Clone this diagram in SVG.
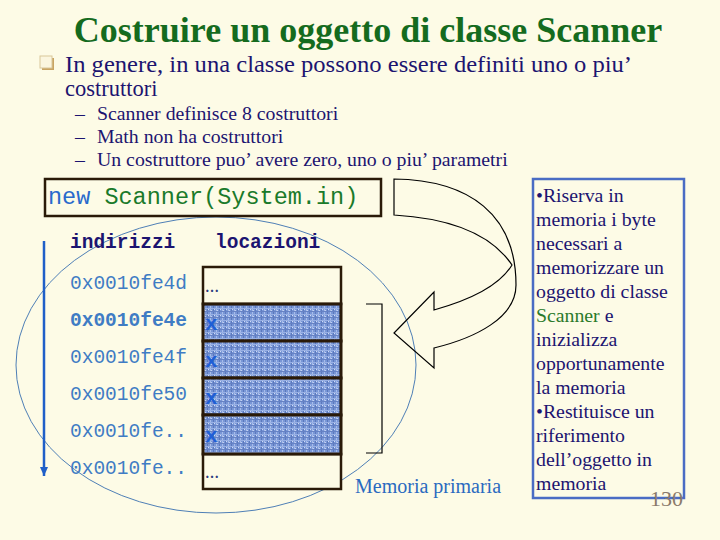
<svg xmlns="http://www.w3.org/2000/svg" width="720" height="540" viewBox="0 0 720 540">
<style>
.title{font-family:"Liberation Serif",serif;font-weight:bold;font-size:36px;fill:#156b1e}
.b1{font-family:"Liberation Serif",serif;font-size:22.5px;fill:#1c1470}
.b2{font-family:"Liberation Serif",serif;font-size:19.8px;fill:#1c1470}
.code{font-family:"Liberation Mono",monospace;font-size:23.5px}
.hdr{font-family:"Liberation Mono",monospace;font-size:19.5px;font-weight:bold;fill:#1c1470}
.addr{font-family:"Liberation Mono",monospace;font-size:19.5px;fill:#3f7cc4}
.cell{stroke:#2a1a08;stroke-width:3}
.x{font-family:"Liberation Mono",monospace;font-size:21px;font-weight:bold;fill:#1f5fd6}
.dots{font-family:"Liberation Serif",serif;font-size:14px;font-weight:bold;fill:#2a3a80}
.side{font-family:"Liberation Serif",serif;font-size:19.8px;fill:#1c1470}
.thin{fill:none;stroke:#000;stroke-width:1.2}
</style>
<defs>
<pattern id="tex" width="6" height="6" patternUnits="userSpaceOnUse">
<rect width="6" height="6" fill="#7896d6"/>
<rect x="0" y="0" width="1" height="6" fill="#a8bdea"/>
<rect x="3" y="0" width="1" height="6" fill="#5b78bc"/>
<rect x="0" y="2" width="6" height="1" fill="#98b0e4"/>
<rect x="0" y="5" width="6" height="1" fill="#6682c4"/>
<rect x="4" y="3" width="1" height="1" fill="#d0dcf4"/>
<rect x="1" y="4" width="1" height="1" fill="#c4d2f0"/>
</pattern>
<marker id="ah" markerWidth="10" markerHeight="10" refX="9" refY="5" orient="auto" markerUnits="userSpaceOnUse">
<path d="M0,1 L9,5 L0,9 Z" fill="#1f5fc8"/>
</marker>
</defs>
<rect width="720" height="540" fill="#fdfbe6"/>

<g id="title"><text class="title" x="368" y="42" text-anchor="middle">Costruire un oggetto di classe Scanner</text></g>

<g id="bullets">
<rect x="42" y="58" width="12" height="12" fill="#c9a462"/>
<rect x="40" y="56" width="12" height="12" fill="#fbf6df" stroke="#d9c79a" stroke-width="1"/>
<text class="b1" x="65" y="72" textLength="567" lengthAdjust="spacingAndGlyphs">In genere, in una classe possono essere definiti uno o piu’</text>
<text class="b1" x="65" y="96">costruttori</text>
<text class="b2" x="75" y="120">–</text><text class="b2" x="97" y="120">Scanner definisce 8 costruttori</text>
<text class="b2" x="75" y="143">–</text><text class="b2" x="97" y="143">Math non ha costruttori</text>
<text class="b2" x="75" y="166">–</text><text class="b2" x="97" y="166">Un costruttore puo’ avere zero, uno o piu’ parametri</text>
</g>

<g id="memory-ellipse"><ellipse cx="216" cy="365" rx="200" ry="148" fill="none" stroke="#3a70b0" stroke-width="0.9"/></g>

<g id="code-box">
<rect x="45" y="179" width="336" height="37" fill="#fdfbe6" stroke="#2a1a08" stroke-width="2.5"/>
<text class="code" x="48" y="204"><tspan fill="#2a6acc">new</tspan><tspan fill="#1a7a2a"> Scanner(System.in)</tspan></text>
</g>

<g id="headers">
<text class="hdr" x="70" y="248">indirizzi</text>
<text class="hdr" x="215" y="248">locazioni</text>
</g>

<g id="addresses">
<text class="addr" x="70" y="289">0x0010fe4d</text>
<text class="addr" x="70" y="326" font-weight="bold" fill="#1f62c8">0x0010fe4e</text>
<text class="addr" x="70" y="363">0x0010fe4f</text>
<text class="addr" x="70" y="400">0x0010fe50</text>
<text class="addr" x="70" y="437">0x0010fe..</text>
<text class="addr" x="70" y="474">0x0010fe..</text>
</g>

<g id="cells">
<rect x="203" y="267" width="138" height="37" fill="#fdfbe6" stroke="#2a1a08" stroke-width="2.5"/>
<text class="dots" x="205" y="292">…</text>
<rect x="203" y="454" width="138" height="35" fill="#fdfbe6" stroke="#2a1a08" stroke-width="2.5"/>
<text class="dots" x="205" y="478">…</text>
<rect class="cell" x="203" y="304" width="138" height="37" fill="url(#tex)"/>
<rect class="cell" x="203" y="341" width="138" height="37" fill="url(#tex)"/>
<rect class="cell" x="203" y="378" width="138" height="37" fill="url(#tex)"/>
<rect class="cell" x="203" y="415" width="138" height="39" fill="url(#tex)"/>
<text class="x" x="205" y="330">x</text>
<text class="x" x="205" y="367">x</text>
<text class="x" x="205" y="404">x</text>
<text class="x" x="205" y="442">x</text>
</g>

<g id="connectors">
<line x1="44" y1="241" x2="44" y2="476" stroke="#1f5fc8" stroke-width="2.5" marker-end="url(#ah)"/>
<path class="thin" d="M366,304 H382 V453 H366"/>
<path class="thin" d="M394,179 C470,180 516,215 516,285 C516,318 475,338 434,348 L434,368 L394,333 L434,292 L434,310 C470,300 500,285 512,265 C490,232 445,218 394,215 Z"/>
</g>

<g id="label-memoria"><text x="355" y="493" font-family="Liberation Serif, serif" font-size="20" fill="#2a6ac0">Memoria primaria</text></g>

<g id="side-box">
<rect x="533" y="179" width="151" height="319" fill="none" stroke="#4a6cc4" stroke-width="2.5"/>
<text class="side" x="536" y="202">•Riserva in</text>
<text class="side" x="536" y="226">memoria i byte</text>
<text class="side" x="536" y="250">necessari a</text>
<text class="side" x="536" y="274">memorizzare un</text>
<text class="side" x="536" y="298">oggetto di classe</text>
<text class="side" x="536" y="322"><tspan fill="#2a7a2a">Scanner</tspan> e</text>
<text class="side" x="536" y="346">inizializza</text>
<text class="side" x="536" y="370">opportunamente</text>
<text class="side" x="536" y="394">la memoria</text>
<text class="side" x="536" y="418">•Restituisce un</text>
<text class="side" x="536" y="442">riferimento</text>
<text class="side" x="536" y="466">dell’oggetto in</text>
<text class="side" x="536" y="490">memoria</text>
</g>

<g id="page"><text x="683" y="506" text-anchor="end" font-family="Liberation Serif, serif" font-size="22" fill="#8a7a6a">130</text></g>
</svg>
